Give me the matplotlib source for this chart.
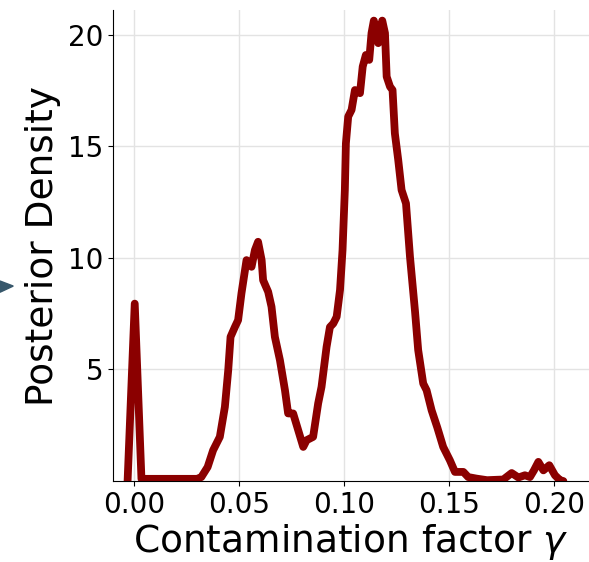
import numpy as np
import matplotlib
matplotlib.use("Agg")
import matplotlib.pyplot as plt
from matplotlib.patches import Polygon

# Posterior density of the contamination factor
gamma = [
    -0.0031, 0.0003, 0.0035, 0.010, 0.020, 0.030, 0.032, 0.035, 0.0376,
    0.0408, 0.0432, 0.0448, 0.0459, 0.048, 0.0495, 0.0511, 0.0535, 0.0559,
    0.0575, 0.059, 0.0607, 0.0614, 0.0638, 0.0654, 0.067, 0.0694, 0.0718,
    0.0733, 0.0757, 0.0781, 0.0805, 0.0821, 0.0852, 0.0876, 0.0892, 0.0916,
    0.0932, 0.0948, 0.0964, 0.098, 0.0992, 0.1003, 0.1008, 0.1019, 0.1035,
    0.1051, 0.1075, 0.1088, 0.1103, 0.1119, 0.113, 0.1141, 0.1162, 0.1181,
    0.1194, 0.1202, 0.1218, 0.123, 0.1241, 0.1257, 0.1273, 0.1294, 0.1313,
    0.1337, 0.1352, 0.1376, 0.1392, 0.1416, 0.1443, 0.1471, 0.1503, 0.1527,
    0.1567, 0.159, 0.163, 0.168, 0.1757, 0.1797, 0.1829, 0.186, 0.1884,
    0.1903, 0.1924, 0.1948, 0.1976, 0.2003, 0.2027, 0.2043,
]
density = [
    0.0, 7.95, 0.1, 0.1, 0.1, 0.1, 0.18, 0.63, 1.38,
    1.98, 3.32, 4.97, 6.46, 6.91, 7.21, 8.41, 9.90, 9.60,
    10.35, 10.72, 9.90, 9.0, 8.48, 7.81, 6.46, 5.42, 4.07,
    3.03, 3.03, 2.28, 1.53, 1.83, 1.98, 3.48, 4.22, 6.01,
    6.9, 7.06, 7.36, 8.56, 10.35, 13.04, 15.13, 16.33, 16.63,
    17.52, 17.38, 18.57, 19.09, 18.87, 20.07, 20.63, 19.62, 20.63,
    20.07, 18.12, 17.67, 17.52, 15.58, 14.39, 13.04, 12.44, 10.05,
    7.6, 5.87, 4.37, 4.07, 3.17, 2.4, 1.53, 0.93, 0.41,
    0.41, 0.18, 0.11, 0.04, 0.07, 0.36, 0.16, 0.26, 0.18,
    0.48, 0.86, 0.48, 0.71, 0.26, 0.04, 0.0,
]

x_ticks = [0.00, 0.05, 0.10, 0.15, 0.20]
y_ticks = [5, 10, 15, 20]

fig = plt.figure(figsize=(5.89, 5.62), dpi=100)
ax = fig.add_axes([0.192, 0.144, 0.808, 0.838])

ax.plot(gamma, density, color="#8b0000", linewidth=5.6,
        solid_joinstyle="round", solid_capstyle="round")

ax.set_xlim(-0.01, 0.2165)
ax.set_ylim(0, 21.1)
ax.set_xticks(x_ticks)
ax.set_xticklabels([f"{v:.2f}" for v in x_ticks])
ax.set_yticks(y_ticks)
ax.tick_params(labelsize=20)
ax.grid(True, color="#e3e3e3", linewidth=1.0)
ax.set_axisbelow(True)

ax.spines["top"].set_visible(False)
ax.spines["right"].set_visible(False)

ax.set_xlabel(r"Contamination factor $\gamma$", fontsize=27, labelpad=2)
ax.set_ylabel("Posterior Density", fontsize=27, labelpad=5)

# pezzo di freccia tagliato al bordo sinistro
tri = Polygon([[0.0, 0.500], [0.0, 0.480], [0.0225, 0.491]], closed=True,
              transform=fig.transFigure, color="#37576b", clip_on=False)
fig.patches.append(tri)

fig.savefig("out.png", dpi=100)
